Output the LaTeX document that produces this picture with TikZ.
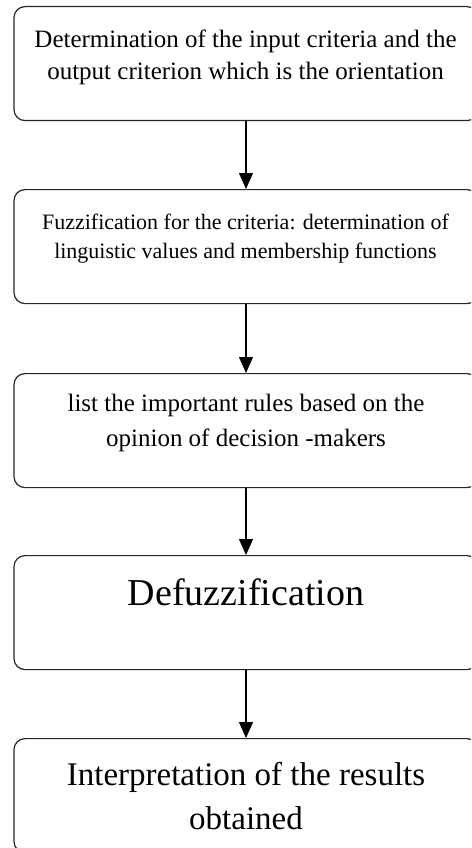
\documentclass[tikz,border=0pt]{standalone}
\usepackage{fontspec}
\setmainfont{Liberation Serif}
\usetikzlibrary{arrows.meta}
\begin{document}
\begin{tikzpicture}[x=1pt,y=-1pt,
  box/.style={draw=black!85, line width=1.2pt, rounded corners=11pt, minimum width=464pt, minimum height=114pt, inner sep=0pt, anchor=north},
  lbl/.style={align=center, anchor=base, inner sep=0pt},
  arr/.style={line width=1.2pt, -{Triangle[width=14pt,length=16pt]}}]
\useasboundingbox (0,0) rectangle (471,848);
\clip (0,0) rectangle (471,848);
\node[box] (b1) at (246,6) {};
\node[box] (b2) at (246,189) {};
\node[box] (b3) at (246,373) {};
\node[box] (b4) at (246,555) {};
\node[box] (b5) at (246,738) {};
\node[lbl, font=\fontsize{25}{32}\selectfont] (t1) at (245.5,80) {Determination of the input criteria and the\\output criterion which is the orientation};
\node[lbl, font=\fontsize{22}{29}\selectfont] (t2) at (245.5,258) {Fuzzification for the criteria: determination of\\linguistic values and membership functions};
\node[lbl, font=\fontsize{25}{35}\selectfont] (t3) at (246,446) {list the important rules based on the\\opinion of decision -makers};
\node[lbl, font=\fontsize{38}{44}\selectfont] (t4) at (246,605) {Defuzzification};
\node[lbl, font=\fontsize{33}{44}\selectfont] (t5) at (246,829) {Interpretation of the results\\obtained};
\draw[arr] (b1.south) -- (b2.north);
\draw[arr] (b2.south) -- (b3.north);
\draw[arr] (b3.south) -- (b4.north);
\draw[arr] (b4.south) -- (b5.north);
\end{tikzpicture}
\end{document}
